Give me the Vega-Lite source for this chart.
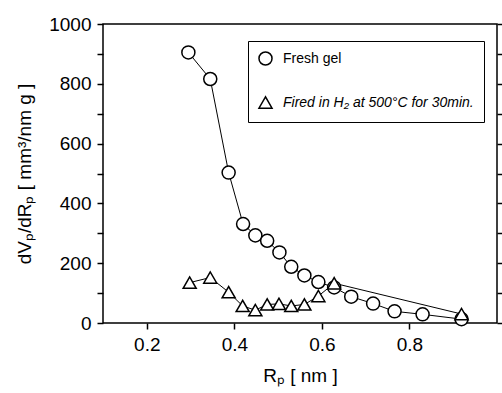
{
  "$schema": "https://vega.github.io/schema/vega-lite/v6.json",
  "width": 394,
  "height": 299,
  "autosize": "none",
  "padding": {"left": 103, "top": 24, "right": 5, "bottom": 70},
  "background": "white",
  "config": {
    "view": {"stroke": "black", "strokeWidth": 1.5},
    "font": "Liberation Sans",
    "axis": {"domain": false, "grid": false, "tickColor": "black", "labelColor": "black", "titleColor": "black", "labelFont": "Liberation Sans", "titleFont": "Liberation Sans", "titleFontWeight": "normal"},
    "legend": {"symbolStrokeWidth": 1.5, "symbolSize": 170, "labelFontSize": 14, "labelFont": "Liberation Sans", "labelColor": "black", "labelOffset": 10, "labelLimit": 300, "rowPadding": 24, "padding": 10, "strokeColor": "black", "fillColor": "white"}
  },
  "data": {"values": [
    {"series": "Fresh gel", "rp": 0.295, "v": 905},
    {"series": "Fresh gel", "rp": 0.345, "v": 816},
    {"series": "Fresh gel", "rp": 0.387, "v": 503},
    {"series": "Fresh gel", "rp": 0.420, "v": 331},
    {"series": "Fresh gel", "rp": 0.448, "v": 293},
    {"series": "Fresh gel", "rp": 0.475, "v": 275},
    {"series": "Fresh gel", "rp": 0.503, "v": 236},
    {"series": "Fresh gel", "rp": 0.530, "v": 188},
    {"series": "Fresh gel", "rp": 0.560, "v": 159},
    {"series": "Fresh gel", "rp": 0.592, "v": 137},
    {"series": "Fresh gel", "rp": 0.628, "v": 119},
    {"series": "Fresh gel", "rp": 0.667, "v": 88},
    {"series": "Fresh gel", "rp": 0.717, "v": 65},
    {"series": "Fresh gel", "rp": 0.766, "v": 39},
    {"series": "Fresh gel", "rp": 0.830, "v": 29},
    {"series": "Fresh gel", "rp": 0.919, "v": 13},
    {"series": "Fired in H₂ at 500°C for 30min.", "rp": 0.298, "v": 135},
    {"series": "Fired in H₂ at 500°C for 30min.", "rp": 0.345, "v": 152},
    {"series": "Fired in H₂ at 500°C for 30min.", "rp": 0.387, "v": 103},
    {"series": "Fired in H₂ at 500°C for 30min.", "rp": 0.419, "v": 57},
    {"series": "Fired in H₂ at 500°C for 30min.", "rp": 0.448, "v": 43},
    {"series": "Fired in H₂ at 500°C for 30min.", "rp": 0.475, "v": 62},
    {"series": "Fired in H₂ at 500°C for 30min.", "rp": 0.502, "v": 64},
    {"series": "Fired in H₂ at 500°C for 30min.", "rp": 0.530, "v": 57},
    {"series": "Fired in H₂ at 500°C for 30min.", "rp": 0.560, "v": 62},
    {"series": "Fired in H₂ at 500°C for 30min.", "rp": 0.592, "v": 90},
    {"series": "Fired in H₂ at 500°C for 30min.", "rp": 0.628, "v": 133},
    {"series": "Fired in H₂ at 500°C for 30min.", "rp": 0.919, "v": 30}
  ]},
  "encoding": {
    "x": {"field": "rp", "type": "quantitative", "scale": {"domain": [0.1, 1.0], "nice": false, "zero": false},
      "axis": {"values": [0.2, 0.4, 0.6, 0.8], "format": ".1f", "tickSize": 6, "tickWidth": 1.5, "labelPadding": 6, "labelFontSize": 19, "title": "Rₚ [ nm ]", "titleFontSize": 19, "titlePadding": 12,
        "encode": {"ticks": {"update": {"y2": {"value": -6}}}}}},
    "y": {"field": "v", "type": "quantitative", "scale": {"domain": [0, 1000], "nice": false}}
  },
  "layer": [
    {
      "mark": {"type": "line", "color": "black", "strokeWidth": 1},
      "encoding": {
        "detail": {"field": "series"},
        "y": {"field": "v", "type": "quantitative", "axis": {"orient": "left", "values": [0,100,200,300,400,500,600,700,800,900,1000], "format": "d", "labelExpr": "datum.value % 200 == 0 ? datum.label : ''", "tickSize": 6, "tickWidth": 1.5, "labelPadding": 6, "labelFontSize": 19, "title": "dVₚ/dRₚ [ mm³/nm g ]", "titleFontSize": 19, "titlePadding": 14,
          "encode": {"ticks": {"update": {"x2": {"value": 6}}}}}}
      }
    },
    {
      "mark": {"type": "point", "filled": false, "fill": "white", "strokeWidth": 1.5, "size": 170, "opacity": 1},
      "encoding": {
        "color": {"field": "series", "type": "nominal",
          "scale": {"domain": ["Fresh gel", "Fired in H₂ at 500°C for 30min."], "range": ["black", "black"]},
          "legend": {"title": null, "orient": "none", "legendX": 145, "legendY": 17,
            "labelFontStyle": {"expr": "datum.value == 'Fresh gel' ? 'normal' : 'italic'"}}},
        "shape": {"field": "series", "type": "nominal",
          "scale": {"domain": ["Fresh gel", "Fired in H₂ at 500°C for 30min."], "range": ["circle", "triangle-up"]},
          "legend": {"title": null, "orient": "none", "legendX": 145, "legendY": 17,
            "labelFontStyle": {"expr": "datum.value == 'Fresh gel' ? 'normal' : 'italic'"}}},
        "y": {"field": "v", "type": "quantitative", "axis": {"orient": "right", "values": [0,100,200,300,400,500,600,700,800,900,1000], "labels": false, "tickSize": 6, "tickWidth": 1.5, "title": null,
          "encode": {"ticks": {"update": {"x2": {"value": -6}}}}}}
      }
    }
  ],
  "resolve": {"axis": {"y": "independent"}}
}
